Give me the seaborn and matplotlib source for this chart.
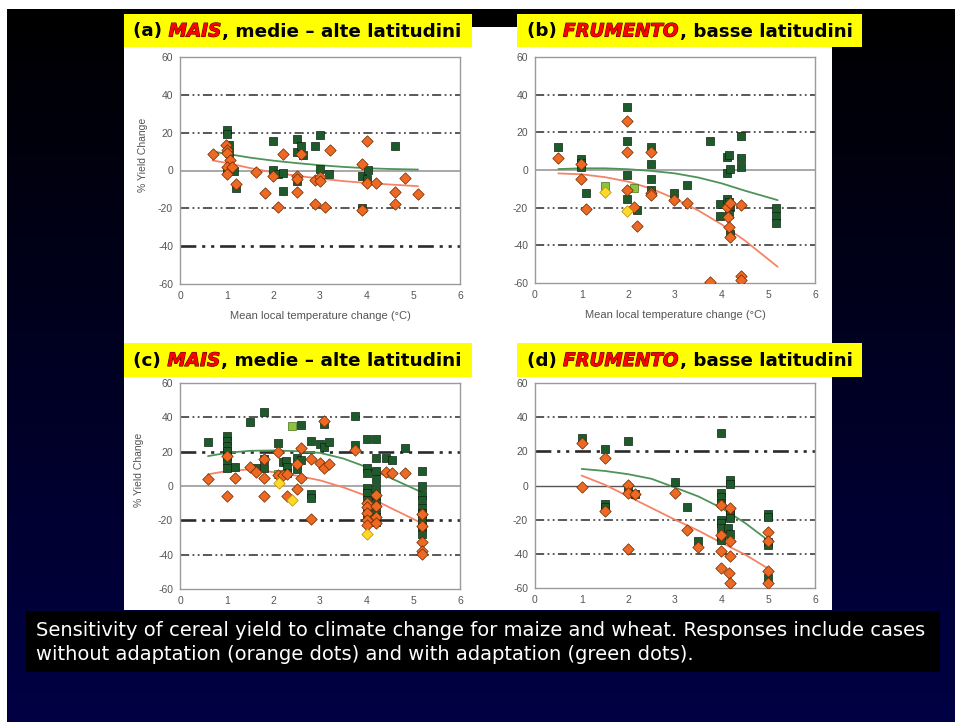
import numpy as np
import pandas as pd
import matplotlib
matplotlib.use("Agg")
import matplotlib.pyplot as plt
import matplotlib.patheffects as pe
from matplotlib.patches import Rectangle
import seaborn as sns

sns.set_style("white")
plt.rcParams['font.family'] = ['Liberation Sans', 'DejaVu Sans']

# ---------------- DATA ----------------
x_ticks = [0, 1, 2, 3, 4, 5, 6]
y_ticks = [-60, -40, -20, 0, 20, 40, 60]
y_tick_labels = ['-60', '-40', '-20', '0', '20', '40', '60']

titles = [
    ("(a) ", "MAIS", ", medie \u2013 alte latitudini"),
    ("(b) ", "FRUMENTO", ", basse latitudini"),
    ("(c) ", "MAIS", ", medie \u2013 alte latitudini"),
    ("(d) ", "FRUMENTO", ", basse latitudini"),
]
x_label = "Mean local temperature change (\u00b0C)"
y_label = "% Yield Change"
caption_lines = [
    "Sensitivity of cereal yield to climate change for maize and wheat. Responses include cases",
    "without adaptation (orange dots) and with adaptation (green dots).",
]

# Panel (a) maize, mid-high latitudes
a_no_x = [0.7, 0.99, 1.0, 1.0, 1.07, 1.0, 1.11, 1.01, 1.21, 1.62, 1.82, 2.0, 2.1, 2.21, 2.5, 2.5, 2.5,
          2.6, 2.9, 2.9, 3.01, 3.01, 3.1, 3.21, 3.91, 4.01, 4.01, 4.21, 3.89, 4.61, 4.61, 4.82, 5.11]
a_no_y = [8.8, 13.3, 10.6, 9.0, 5.3, 1.8, 1.8, -2.1, -7.1, -0.9, -12.0, -2.7, -19.1, 8.5, -2.7, -4.5, -11.2,
          8.8, -17.7, -4.9, -3.2, -5.8, -19.5, 10.6, 3.2, 15.4, -6.7, -6.7, -20.7, -11.2, -17.7, -3.9, -12.4]
a_ad_x = [1.01, 1.01, 1.06, 1.06, 1.01, 1.16, 1.21, 2.0, 2.0, 2.1, 2.2, 2.2, 2.5, 2.5, 2.59, 2.63, 2.5,
          2.9, 3.0, 3.01, 3.2, 3.89, 4.0, 4.02, 3.9, 4.61]
a_ad_y = [21.6, 19.5, 13.3, 9.2, -0.4, 0.0, -9.2, 15.6, 0.3, -1.8, -1.4, -11.0, 16.8, 9.7, 12.9, 8.3, -5.3,
          12.7, 19.0, 0.9, -2.1, -2.7, -4.4, 0.5, -19.8, 12.9]
a_fit_x = [0.7, 1.0, 1.5, 2.0, 2.5, 3.0, 3.5, 4.0, 4.5, 5.1]
a_fit_ad = [10.0, 8.8, 6.8, 5.2, 3.9, 2.8, 1.9, 1.2, 0.8, 0.5]
a_fit_no = [5.3, 4.0, 1.3, -1.0, -2.8, -4.3, -5.6, -6.6, -7.4, -8.3]

# Panel (b) wheat, low latitudes
b_no_x = [0.5, 0.98, 0.98, 1.1, 1.98, 1.98, 1.98, 2.12, 2.18, 2.48, 2.48, 2.48, 2.98, 3.25, 3.75,
          4.11, 4.13, 4.15, 4.17, 4.17, 4.41, 4.41, 4.41]
b_no_y = [6.2, 3.2, -4.8, -20.5, 26.2, 9.8, -10.4, -19.6, -29.8, 9.8, -12.1, -13.4, -16.1, -17.3, -59.5,
          -19.6, -25.0, -30.0, -35.7, -17.5, -18.8, -56.3, -58.6]
b_ad_x = [0.5, 0.98, 0.98, 0.98, 1.1, 1.98, 1.98, 1.98, 1.98, 2.18, 2.48, 2.48, 2.48, 2.48, 2.98, 3.25,
          3.75, 3.96, 3.96, 4.11, 4.15, 4.11, 4.17, 4.11, 4.15, 4.17, 4.15, 4.18, 4.41, 4.41, 4.41,
          5.16, 5.16, 5.16]
b_ad_y = [12.1, 5.7, 3.9, 1.4, -12.1, 33.4, 15.2, -2.7, -15.2, -21.0, 12.1, 3.2, -4.8, -10.4, -12.1, -8.0,
          15.5, -17.9, -24.6, 7.1, 8.0, -1.8, 0.4, -15.2, -17.0, -19.6, -23.2, -33.9, 18.2, 6.2, 1.4,
          -20.2, -24.6, -28.2]
b_yel_x = [1.5, 1.98]
b_yel_y = [-11.6, -22.0]
b_lg_x = [1.5, 2.12]
b_lg_y = [-8.6, -9.8]
b_fit_x = [0.5, 1.0, 1.5, 2.0, 2.5, 3.0, 3.5, 4.0, 4.5, 5.2]
b_fit_ad = [0.5, 0.9, 0.9, 0.4, -0.5, -1.8, -4.0, -7.1, -11.0, -16.0]
b_fit_no = [-1.8, -2.3, -3.8, -6.2, -10.0, -15.2, -21.5, -28.9, -37.5, -51.4]

# Panel (c) maize, mid-high latitudes (with adaptation)
c_ad_x = [0.6, 1.0, 1.0, 1.0, 1.0, 1.0, 1.0, 1.0, 1.18, 1.51, 1.63, 1.8, 1.8, 1.8, 2.1, 2.2, 2.28, 2.3,
          2.3, 2.5, 2.5, 2.59, 2.6, 2.8, 2.8, 2.8, 2.99, 3.08, 3.09, 3.19, 3.75, 3.75, 4.0, 4.0, 4.0,
          4.0, 4.0, 4.0, 4.0, 4.0, 4.2, 4.2, 4.2, 4.2, 4.2, 4.2, 4.2, 4.2, 4.2, 4.2, 4.42, 4.55, 4.83,
          5.19, 5.19, 5.19, 5.19, 5.19, 5.19, 5.19, 5.19, 5.19]
c_ad_y = [25.5, 29.4, 26.1, 23.2, 20.3, 17.4, 14.5, 10.6, 11.0, 37.3, 10.6, 43.1, 15.5, 10.3, 25.1, 14.1,
          14.5, 11.0, 7.7, 16.1, 9.7, 15.1, 35.4, 26.5, -4.4, -6.8, 24.2, 36.2, 22.6, 25.7, 40.6, 23.8,
          27.1, 10.6, 7.7, -1.0, -4.0, -8.0, -14.0, -17.0, 27.1, 16.4, 8.7, 3.9, -1.0, -6.0, -10.0,
          -14.0, -18.0, -21.0, 16.4, 14.9, 22.2, 8.7, 0.0, -5.0, -8.0, -13.0, -16.0, -20.0, -24.0, -28.0]
c_no_x = [0.6, 1.0, 1.0, 1.18, 1.51, 1.63, 1.8, 1.8, 1.8, 2.1, 2.1, 2.2, 2.3, 2.3, 2.5, 2.5, 2.6, 2.6,
          2.8, 2.8, 2.99, 3.08, 3.09, 3.19, 3.75, 4.0, 4.0, 4.0, 4.0, 4.0, 4.2, 4.2, 4.2, 4.2, 4.42,
          4.55, 4.83, 5.19, 5.19, 5.19, 5.19, 5.19]
c_no_y = [3.9, 17.4, -5.8, 4.8, 11.0, 8.1, 15.5, 4.4, -5.8, 19.9, 6.2, 6.2, 6.8, -5.8, 12.6, -1.9, 22.2,
          4.8, 15.5, -19.3, 13.2, 37.7, 10.6, 12.6, 20.7, -10.0, -12.0, -16.0, -20.0, -23.0, -5.2, -11.6,
          -18.0, -21.3, 8.1, 7.7, 7.4, -16.4, -23.2, -32.9, -37.7, -39.7]
c_yel_x = [2.12, 2.41, 4.0]
c_yel_y = [1.9, -8.3, -28.0]
c_lg_x = [2.1, 2.39]
c_lg_y = [7.2, 35.2]
c_fit_x = [0.6, 1.0, 1.5, 2.0, 2.5, 3.0, 3.5, 4.0, 4.5, 5.2]
c_fit_ad = [17.4, 19.3, 20.5, 20.7, 20.3, 19.3, 16.0, 11.0, 4.8, -3.9]
c_fit_no = [6.8, 8.7, 9.7, 8.1, 6.0, 3.3, -0.8, -5.8, -12.6, -21.9]

# Panel (d) wheat, low latitudes (with adaptation)
d_ad_x = [1.0, 1.5, 1.5, 1.5, 2.0, 2.0, 2.14, 3.0, 3.26, 3.5, 3.99, 3.99, 3.99, 3.99, 3.99, 3.99, 3.99,
          3.99, 3.99, 4.18, 4.18, 4.18, 4.18, 4.18, 4.13, 4.18, 4.99, 4.99, 4.99, 4.99, 4.99]
d_ad_y = [28.0, 21.4, -10.9, -12.6, 26.0, -1.6, -5.0, 2.3, -12.8, -32.2, 31.0, -4.5, -7.0, -10.0, -20.0,
          -22.0, -25.0, -30.0, -32.0, 3.3, 0.8, -14.8, -17.0, -19.0, -24.9, -28.4, -16.7, -18.6, -33.2,
          -35.0, -54.0]
d_no_x = [1.0, 1.0, 1.5, 1.5, 2.0, 2.0, 2.0, 2.14, 3.0, 3.26, 3.5, 3.99, 3.99, 3.99, 3.99, 4.18, 4.18,
          4.18, 4.15, 4.18, 4.99, 4.99, 4.99, 4.99]
d_no_y = [25.0, -0.6, 15.9, -15.1, 0.4, -4.5, -36.9, -5.0, -4.5, -26.2, -36.1, -11.3, -28.7, -38.4, -48.5,
          -13.2, -32.2, -41.4, -51.1, -57.3, -27.4, -32.2, -50.1, -56.9]
d_fit_x = [1.0, 1.5, 2.0, 2.5, 3.0, 3.5, 4.0, 4.5, 5.0]
d_fit_ad = [9.7, 8.5, 6.6, 3.9, -1.2, -6.4, -13.2, -21.9, -32.2]
d_fit_no = [5.8, 0.4, -6.4, -13.2, -20.0, -26.4, -33.6, -40.4, -48.7]

# ---------------- FIGURE ----------------
W, H = 955, 722
fig = plt.figure(figsize=(W / 100, H / 100), dpi=100)
fig.patch.set_facecolor('white')

def fx(px):
    return px / W

def fy(py):
    return 1 - py / H

# gradient background
bg = fig.add_axes([fx(7), 0, fx(W - 7), 1 - 9 / H], zorder=-10)
grad = np.linspace(0, 1, 256)
cols = np.zeros((256, 1, 3))
cols[:, 0, 2] = 0.27 * grad
bg.imshow(cols, aspect='auto', extent=[0, 1, 0, 1], origin='upper')
bg.set_axis_off()

# white chart sheet
fig.patches.append(Rectangle((fx(124), fy(610)), fx(832) - fx(124), fy(27) - fy(610),
                             transform=fig.transFigure, facecolor='white', edgecolor='none', zorder=-5))

ORANGE = '#EE6A24'
ORANGE_EDGE = '#6b2800'
GREEN = '#1F5A2C'
GREEN_EDGE = '#0b2410'
FIT_GREEN = '#4E9458'
FIT_ORANGE = '#F58466'
YELLOW = '#FFD82A'
LIGHTGREEN = '#8CC43C'

panels = [
    dict(rect=(180, 460, 57, 284), no=(a_no_x, a_no_y), ad=(a_ad_x, a_ad_y), yel=None, lg=None,
         fit=(a_fit_x, a_fit_ad, a_fit_no), thick=[-40], xl=True, yl=True, ylc=(-0.115, 0.57)),
    dict(rect=(535, 815, 57, 283), no=(b_no_x, b_no_y), ad=(b_ad_x, b_ad_y), yel=(b_yel_x, b_yel_y),
         lg=(b_lg_x, b_lg_y), fit=(b_fit_x, b_fit_ad, b_fit_no), thick=[], xl=True, yl=False, ylc=None),
    dict(rect=(180, 460, 383, 589), no=(c_no_x, c_no_y), ad=(c_ad_x, c_ad_y), yel=(c_yel_x, c_yel_y),
         lg=(c_lg_x, c_lg_y), fit=(c_fit_x, c_fit_ad, c_fit_no), thick=[20, -20], xl=False, yl=True,
         ylc=(-0.13, 0.58)),
    dict(rect=(535, 815, 383, 588), no=(d_no_x, d_no_y), ad=(d_ad_x, d_ad_y), yel=None, lg=None,
         fit=(d_fit_x, d_fit_ad, d_fit_no), thick=[20], xl=False, yl=False, ylc=None),
]

for i, p in enumerate(panels):
    l, r, t, b = p['rect']
    ax = fig.add_axes([fx(l), fy(b), fx(r) - fx(l), fy(t) - fy(b)], zorder=1)
    ax.set_facecolor('white')
    for yv in [40, 20, -20, -40]:
        lw = 1.9 if yv in p['thick'] else 1.1
        ax.axhline(yv, color='#2b2b2b', lw=lw, dashes=(6, 2.2, 1.2, 2.2, 1.2, 2.2), zorder=1)
    ax.axhline(0, color='#a8a8a8' if i < 3 else '#555555', lw=1.4 if i < 3 else 1.0, zorder=1)

    fx_, fad, fno = p['fit']
    sns.lineplot(x=fx_, y=fad, ax=ax, color=FIT_GREEN, lw=1.3, estimator=None, sort=False,
                 legend=False, zorder=2)
    sns.lineplot(x=fx_, y=fno, ax=ax, color=FIT_ORANGE, lw=1.3, estimator=None, sort=False,
                 legend=False, zorder=2)

    sns.scatterplot(x=p['ad'][0], y=p['ad'][1], ax=ax, marker='s', s=26, color=GREEN,
                    edgecolor=GREEN_EDGE, linewidth=0.5, legend=False, zorder=3)
    if p['lg'] is not None:
        sns.scatterplot(x=p['lg'][0], y=p['lg'][1], ax=ax, marker='s', s=34, color=LIGHTGREEN,
                        edgecolor='#4a6a20', linewidth=0.5, legend=False, zorder=3)
    sns.scatterplot(x=p['no'][0], y=p['no'][1], ax=ax, marker='D', s=34, color=ORANGE,
                    edgecolor=ORANGE_EDGE, linewidth=0.5, legend=False, zorder=4)
    if p['yel'] is not None:
        sns.scatterplot(x=p['yel'][0], y=p['yel'][1], ax=ax, marker='D', s=34, color=YELLOW,
                        edgecolor='#b88a00', linewidth=0.5, legend=False, zorder=4)

    ax.set_xlim(0, 6)
    ax.set_ylim(-60, 60)
    ax.set_xticks(x_ticks)
    ax.set_xticklabels([str(v) for v in x_ticks])
    ax.set_yticks(y_ticks)
    ax.set_yticklabels(y_tick_labels)
    ax.tick_params(length=0, labelsize=7.5, labelcolor='#555555', pad=5)
    for s in ax.spines.values():
        s.set_color('#9a9a9a')
        s.set_linewidth(1.0)
        s.set_visible(True)
    ax.set_xlabel(x_label if p['xl'] else '', fontsize=8, color='#555555', labelpad=7)
    if p['yl']:
        ax.set_ylabel(y_label, fontsize=7.5, color='#555555')
        ax.yaxis.set_label_coords(*p['ylc'])
    else:
        ax.set_ylabel('')

# ---------------- TITLE BOXES ----------------
boxes = [(124, 472, 14, 47, 133, 462), (517, 862, 14, 47, 527, 852),
         (124, 472, 343, 377, 133, 462), (517, 862, 343, 377, 527, 852)]

fig.canvas.draw()
rend = fig.canvas.get_renderer()

def text_w(s, size, **kw):
    t = fig.text(0, 0, s, fontsize=size, **kw)
    w = t.get_window_extent(rend).width
    t.remove()
    return w

TFONT = ['DejaVu Sans']
for (bl, br, bt, bb, tx0, tx1), parts in zip(boxes, titles):
    fig.patches.append(Rectangle((fx(bl), fy(bb)), fx(br) - fx(bl), fy(bt) - fy(bb),
                                 transform=fig.transFigure, facecolor='#FFFF00',
                                 edgecolor='none', zorder=5))
    base = 14.0
    kw_n = dict(family=TFONT, weight='bold')
    kw_i = dict(family=TFONT, weight='bold', style='italic')
    w0 = text_w(parts[0] + 'l', base, **kw_n) - text_w('l', base, **kw_n)
    w1 = text_w(parts[1], base, **kw_i)
    w2 = text_w(parts[2], base, **kw_n)
    scale = (tx1 - tx0) / (w0 + w1 + w2)
    size = base * scale
    yc = fy((bt + bb) / 2 + 1)
    fig.text(fx(tx0), yc, parts[0], fontsize=size, color='black', va='center', ha='left',
             zorder=6, **kw_n)
    fig.text(fx(tx0 + w0 * scale), yc, parts[1], fontsize=size, color='#FF0000', va='center',
             ha='left', zorder=6,
             path_effects=[pe.withStroke(linewidth=0.8, foreground='#5a0000')], **kw_i)
    fig.text(fx(tx0 + (w0 + w1) * scale + 1), yc, parts[2], fontsize=size, color='black',
             va='center', ha='left', zorder=6, **kw_n)

# ---------------- CAPTION ----------------
fig.patches.append(Rectangle((fx(26), fy(672)), fx(940) - fx(26), fy(611) - fy(672),
                             transform=fig.transFigure, facecolor='black', edgecolor='none',
                             zorder=5))
CFONT = ['DejaVu Sans']
cw = text_w(caption_lines[0], 14, family=CFONT)
csize = 14 * (894 / cw)
for line, yc in zip(caption_lines, [631, 654]):
    fig.text(fx(36), fy(yc), line, fontsize=csize, color='white', family=CFONT,
             va='center', ha='left', zorder=6)

fig.savefig('out.png', dpi=100, facecolor=fig.get_facecolor())
